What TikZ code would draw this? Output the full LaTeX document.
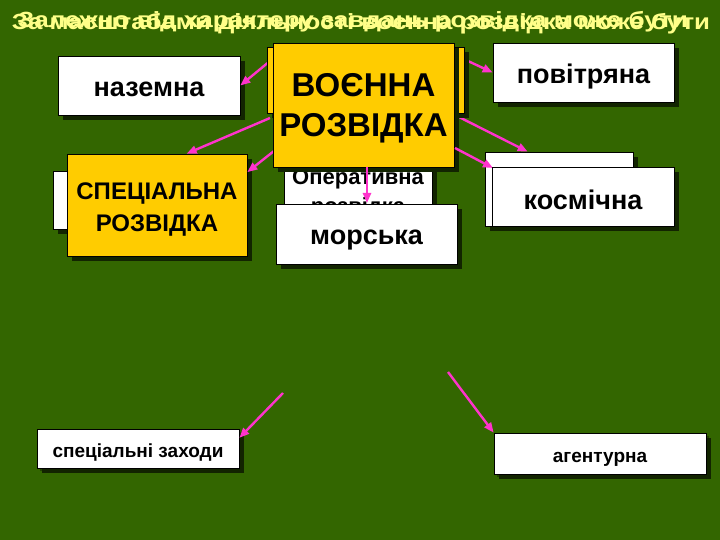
\documentclass[tikz,border=0pt]{standalone}
\usepackage{fontspec}
\setmainfont{Liberation Sans}
\usetikzlibrary{arrows.meta,shadows}
\definecolor{bg}{HTML}{336600}
\definecolor{ttl}{HTML}{FFFF88}
\definecolor{gold}{HTML}{FFCC00}
\definecolor{shd}{HTML}{122400}
\definecolor{mag}{HTML}{FF33CC}
\tikzset{
  box/.style={draw=black, line width=0.7pt, inner sep=0pt, align=center, font=\bfseries,
    drop shadow={shadow xshift=5pt, shadow yshift=-5pt, fill=shd, opacity=1}},
  wbox/.style={box, fill=white},
  ybox/.style={box, fill=gold},
  arr/.style={draw=mag, line width=2.4pt, -{Triangle[length=10pt,width=8pt]}},
  ttlnode/.style={text=ttl, font=\bfseries, inner sep=0pt}
}
\newcommand{\fs}[1]{\fontsize{#1}{#1}\selectfont}
\newcommand{\dn}[2]{\raisebox{-#1pt}[\height][\depth]{#2}}
\begin{document}
\begin{tikzpicture}[x=1pt,y=-1pt]
\fill[bg] (0,0) rectangle (720,540);
\useasboundingbox (0,0) rectangle (720,540);
% titles
\node[ttlnode] (t1) at (353,22) {\resizebox{670pt}{\height}{\fs{22}Залежно від характеру завдань розвідка може бути}};
\node[ttlnode] (t2) at (361,24) {\resizebox{698pt}{\height}{\fs{22}За масштабами діяльності воєнна розвідка може бути}};
% boxes
\node[wbox, minimum width=182pt, minimum height=59pt, font=\bfseries\fs{27}] (nazemna) at (149,85.5) {\dn{3.5}{наземна}};
\node[wbox, minimum width=181pt, minimum height=59pt, font=\bfseries\fs{27}] (pov) at (583.5,72.5) {\dn{4.5}{повітряна}};
% coordinates for arrow tails
\coordinate (a1) at (270,61);
\coordinate (a2) at (455,55);
\coordinate (a3) at (270,118);
\coordinate (a4) at (274,151);
\coordinate (a5) at (455,115);
\coordinate (a6) at (455,148);
\coordinate (a7) at (283,393);
\coordinate (a8) at (448,372);
\coordinate (a9) at (367,167);
\coordinate (a9e) at (367,203);
\coordinate (a6e) at (493,168);
% special block
\node[wbox, minimum width=147pt, minimum height=58pt] (specback) at (126.5,200) {};
\node[ybox, minimum width=180pt, minimum height=102pt, font=\bfseries\fs{24}] (spec) at (157,205) {\dn{3.5}{СПЕЦІАЛЬНА}\\[5pt]\dn{6.5}{РОЗВІДКА}};
\draw[arr] (a3) -- (spec.60);
\draw[arr] (a4) -- (spec.20);
% right back box
\node[wbox, minimum width=148pt, minimum height=74pt] (rback) at (559,189) {};
\draw[arr] (a5) -- (rback.130);
\draw[arr] (a1) -- (nazemna.east);
\draw[arr] (a2) -- (pov.west);
% operational
\node[wbox, minimum width=148pt, minimum height=76pt, font=\bfseries\fs{22}] (oper) at (358,190) {\dn{2}{Оперативна}\\[3pt]\dn{6}{розвідка}};
% voen
\node[ybox, minimum width=197pt, minimum height=66pt] (voenback) at (365.5,80) {};
\node[ybox, minimum width=181pt, minimum height=124pt, font=\bfseries\fs{33}] (voen) at (363.5,105) {\dn{3.5}{ВОЄННА}\\[7pt]\dn{3}{РОЗВІДКА}};
\draw[arr] (a9) -- (a9e);
\node[wbox, minimum width=181pt, minimum height=60pt, font=\bfseries\fs{27}] (morska) at (366.5,234) {\dn{6}{морська}};
\draw[arr] (a6) -- (a6e);
\node[wbox, minimum width=182pt, minimum height=59pt, font=\bfseries\fs{27}] (kosm) at (583,196.5) {\dn{3}{космічна}};
% bottom
\node[wbox, minimum width=202pt, minimum height=39pt, font=\bfseries\fs{19}, drop shadow={shadow xshift=3pt, shadow yshift=-3pt, fill=shd}] (spz) at (138,448.5) {\dn{4}{спеціальні заходи}};
\node[wbox, minimum width=212pt, minimum height=41pt, font=\bfseries\fs{19}, drop shadow={shadow xshift=3pt, shadow yshift=-3pt, fill=shd}] (agent) at (600,453.5) {\dn{6}{агентурна}};
\draw[arr] (a7) -- (spz.6);
\draw[arr] (a8) -- (agent.north west);
\end{tikzpicture}
\end{document}
